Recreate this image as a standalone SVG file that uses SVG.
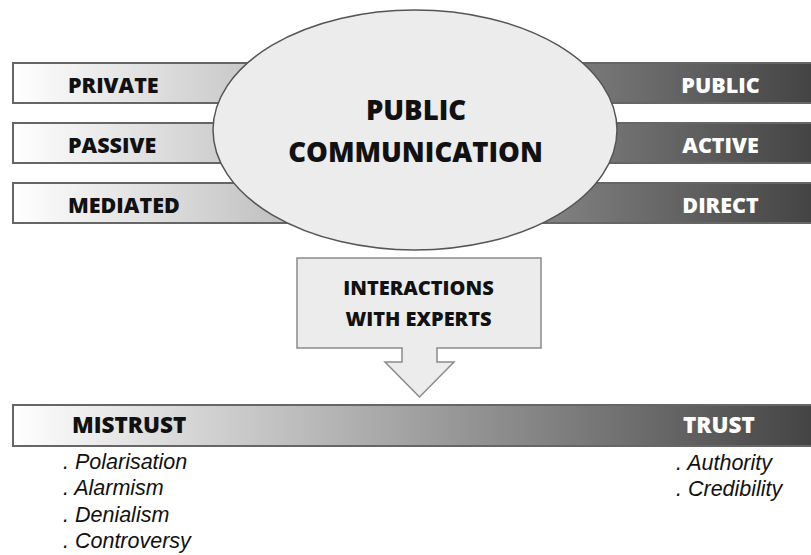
<svg xmlns="http://www.w3.org/2000/svg" width="811" height="555" viewBox="0 0 811 555">
  <defs>
    <linearGradient id="scale" gradientUnits="userSpaceOnUse" x1="13" y1="0" x2="811" y2="0">
      <stop offset="0" stop-color="#ffffff"/>
      <stop offset="1" stop-color="#444444"/>
    </linearGradient>
    <style>
      .bar { fill: url(#scale); stroke: #666666; stroke-width: 2; }
      .bold { font-family: "Open Sans", "Liberation Sans", sans-serif; font-weight: 800; }
      .dark { fill: #111111; }
      .light { fill: #ffffff; }
      .item { font-family: "Liberation Sans", Arial, sans-serif; font-style: italic; font-size: 21.5px; fill: #111111; }
      .shape { fill: #ececec; }
    </style>
  </defs>
  <rect width="811" height="555" fill="#ffffff"/>

  <!-- three opposing scales behind the central ellipse -->
  <g id="scale-private-public">
    <rect class="bar" x="13" y="63" width="820" height="40"/>
    <text class="bold dark" x="68" y="92.5" font-size="21.5">PRIVATE</text>
    <text class="bold light" x="720.5" y="92.5" font-size="21.5" text-anchor="middle">PUBLIC</text>
  </g>
  <g id="scale-passive-active">
    <rect class="bar" x="13" y="123" width="820" height="40"/>
    <text class="bold dark" x="68" y="152.5" font-size="21.5">PASSIVE</text>
    <text class="bold light" x="720.5" y="152.5" font-size="21.5" text-anchor="middle">ACTIVE</text>
  </g>
  <g id="scale-mediated-direct">
    <rect class="bar" x="13" y="183" width="820" height="40"/>
    <text class="bold dark" x="68" y="212.5" font-size="21.5">MEDIATED</text>
    <text class="bold light" x="720.5" y="212.5" font-size="21.5" text-anchor="middle">DIRECT</text>
  </g>

  <g id="public-communication">
    <ellipse class="shape" cx="415" cy="130" rx="202" ry="120" stroke="#555555" stroke-width="1.5"/>
    <text class="bold dark" x="416" y="120" font-size="27.5" text-anchor="middle">PUBLIC</text>
    <text class="bold dark" x="415.5" y="162" font-size="27.5" text-anchor="middle">COMMUNICATION</text>
  </g>

  <g id="interactions-with-experts">
    <polygon class="shape" stroke="#8a8a8a" stroke-width="1.5"
      points="297,258 541,258 541,348 437,348 437,362 454,362 419.5,397 385,362 402,362 402,348 297,348"/>
    <text class="bold dark" x="418.5" y="295" font-size="20" text-anchor="middle">INTERACTIONS</text>
    <text class="bold dark" x="418.5" y="326" font-size="20" text-anchor="middle">WITH EXPERTS</text>
  </g>

  <g id="scale-mistrust-trust">
    <rect class="bar" x="13" y="405" width="820" height="41"/>
    <text class="bold dark" x="72" y="432.5" font-size="22.5">MISTRUST</text>
    <text class="bold light" x="683" y="432.5" font-size="22.5">TRUST</text>
  </g>

  <g id="mistrust-factors">
    <text class="item" x="63" y="469">. Polarisation</text>
    <text class="item" x="63" y="495">. Alarmism</text>
    <text class="item" x="63" y="521.5">. Denialism</text>
    <text class="item" x="63" y="548">. Controversy</text>
  </g>
  <g id="trust-factors">
    <text class="item" x="676" y="469.5">. Authority</text>
    <text class="item" x="676" y="495.5">. Credibility</text>
  </g>

  <g id="connectors"/>
</svg>
